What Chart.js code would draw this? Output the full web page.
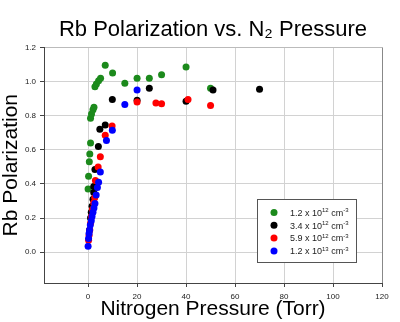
<!DOCTYPE html>
<html>
<head>
<meta charset="utf-8">
<script src="https://cdn.jsdelivr.net/npm/chart.js@4/dist/chart.umd.min.js"></script>
<style>
html, body { margin: 0; padding: 0; background: #fff; }
</style>
</head>
<body>
<canvas id="polChart" width="400" height="322"></canvas>
<script>
// Rb polarization vs N2 pressure (Torr), one series per Rb density
const mantissas = ['1.2', '3.4', '5.9', '1.2'];
const exponents = ['12', '12', '12', '13'];
const colors = ['#1c8a1c', '#000000', '#ff0000', '#0000ff'];

const greenP   = [0.0, 0.2, 0.5, 0.7, 1.0, 1.0, 1.4, 2.0, 2.4, 2.8, 3.4, 4.3, 5.1, 7.0, 10.0, 15.0, 20.0, 25.0, 30.0, 40.0, 50.0];
const greenPol = [0.37, 0.445, 0.53, 0.575, 0.64, 0.785, 0.81, 0.835, 0.85, 0.97, 0.985, 1.005, 1.02, 1.095, 1.05, 0.99, 1.02, 1.02, 1.04, 1.085, 0.96];

const blackP   = [0.6, 1.0, 1.3, 1.6, 2.0, 2.3, 2.3, 2.8, 4.2, 4.8, 7.0, 9.9, 20.0, 25.0, 40.0, 51.0, 70.0];
const blackPol = [0.13, 0.2, 0.235, 0.27, 0.31, 0.35, 0.385, 0.485, 0.62, 0.72, 0.745, 0.895, 0.89, 0.96, 0.885, 0.95, 0.955];

const redP   = [0.2, 0.4, 0.7, 1.0, 1.4, 1.8, 2.3, 2.7, 3.0, 4.1, 5.0, 7.0, 9.8, 20.0, 27.7, 30.0, 40.8, 50.0];
const redPol = [0.07, 0.1, 0.13, 0.17, 0.21, 0.25, 0.29, 0.32, 0.42, 0.5, 0.56, 0.685, 0.74, 0.88, 0.875, 0.87, 0.895, 0.86];

const blueP   = [0.0, 0.2, 0.4, 0.6, 0.9, 1.3, 1.6, 2.0, 2.4, 2.8, 3.3, 3.8, 4.3, 5.0, 7.5, 9.9, 15.0, 20.0];
const bluePol = [0.035, 0.08, 0.11, 0.13, 0.16, 0.185, 0.21, 0.235, 0.26, 0.285, 0.335, 0.38, 0.41, 0.47, 0.655, 0.715, 0.865, 0.95];

const xTicks = [0, 20, 40, 60, 80, 100, 120];
const yTicks = [0.0, 0.2, 0.4, 0.6, 0.8, 1.0, 1.2];

const FONT = 'Liberation Sans, Arial, sans-serif';

function pts(xs, ys) {
    return xs.map((x, i) => ({x: x, y: ys[i]}));
}

const series = [pts(greenP, greenPol), pts(blackP, blackPol), pts(redP, redPol), pts(blueP, bluePol)];

// legend box inside the plot, with real superscripts
const legendBox = {
    id: 'legendBox',
    afterDraw(chart) {
        const ctx = chart.ctx;
        const area = chart.chartArea;
        const x0 = Math.round(area.right - 125), y0 = Math.round(area.top + 152);
        const w = 99, h = 63;
        ctx.save();
        ctx.fillStyle = '#fff';
        ctx.fillRect(x0, y0, w, h);
        ctx.strokeStyle = '#555';
        ctx.lineWidth = 1;
        ctx.strokeRect(x0 + 0.5, y0 + 0.5, w, h);
        ctx.textBaseline = 'alphabetic';
        chart.data.datasets.forEach(function(ds, i) {
            const cy = y0 + 13.5 + i * 12.8;
            ctx.fillStyle = ds.backgroundColor;
            ctx.beginPath();
            ctx.arc(x0 + 17, cy, 3.5, 0, Math.PI * 2);
            ctx.fill();

            let tx = x0 + 33;
            const base = cy + 3.2;
            ctx.fillStyle = '#222';
            ctx.font = '9px ' + FONT;
            let s = mantissas[i] + ' x 10';
            ctx.fillText(s, tx, base);
            tx += ctx.measureText(s).width;
            ctx.font = '6px ' + FONT;
            ctx.fillText(exponents[i], tx, base - 3.5);
            tx += ctx.measureText(exponents[i]).width;
            ctx.font = '9px ' + FONT;
            ctx.fillText(' cm', tx, base);
            tx += ctx.measureText(' cm').width;
            ctx.font = '6px ' + FONT;
            ctx.fillText('-3', tx, base - 3.5);
        });
        ctx.restore();
    }
};

new Chart(document.getElementById('polChart').getContext('2d'), {
    type: 'scatter',
    data: {
        datasets: series.map(function(d, i) {
            return {
                label: mantissas[i] + ' x 10^' + exponents[i] + ' cm^-3',
                data: d,
                backgroundColor: colors[i],
                borderColor: colors[i],
                borderWidth: 0,
                pointRadius: 3.5,
                order: 4 - i
            };
        })
    },
    options: {
        responsive: false,
        animation: false,
        layout: { padding: { left: 0, right: 18, top: 0, bottom: 0 } },
        plugins: {
            legend: { display: false },
            tooltip: { enabled: false },
            title: {
                display: true,
                fullSize: false,
                text: 'Rb Polarization vs. N\u2082 Pressure',
                color: '#000',
                font: { family: FONT, size: 22, weight: 'normal', lineHeight: 1.2 },
                padding: { top: 17, bottom: 4 }
            }
        },
        scales: {
            x: {
                type: 'linear',
                min: -18,
                max: 120,
                afterBuildTicks: function(s) {
                    s.ticks = xTicks.map(v => ({value: v}));
                },
                afterFit: function(s) { s.height = 39; },
                ticks: {
                    color: '#222',
                    font: { family: FONT, size: 8 },
                    padding: 5,
                    maxRotation: 0,
                    callback: v => String(v)
                },
                grid: {
                    color: c => (c.tick && c.tick.value === 120) ? '#888' : '#d2d2d2',
                    tickColor: '#444',
                    tickLength: 4
                },
                border: { display: true, color: '#444', width: 1 },
                title: {
                    display: true,
                    text: 'Nitrogen Pressure (Torr)',
                    color: '#000',
                    font: { family: FONT, size: 21, lineHeight: 1.2 },
                    padding: 0
                }
            },
            y: {
                type: 'linear',
                min: -0.18,
                max: 1.2,
                afterBuildTicks: function(s) {
                    s.ticks = yTicks.map(v => ({value: v}));
                },
                afterFit: function(s) { s.width = 44; },
                ticks: {
                    color: '#222',
                    font: { family: FONT, size: 8 },
                    padding: 4,
                    callback: v => v.toFixed(1)
                },
                grid: {
                    color: c => (c.tick && c.tick.value === 1.2) ? '#bbb' : '#d2d2d2',
                    tickColor: '#444',
                    tickLength: 4
                },
                border: { display: true, color: '#444', width: 1 },
                title: {
                    display: true,
                    text: 'Rb Polarization',
                    color: '#000',
                    font: { family: FONT, size: 21, lineHeight: 1.1 },
                    padding: 0
                }
            }
        }
    },
    plugins: [legendBox]
});
</script>
</body>
</html>
